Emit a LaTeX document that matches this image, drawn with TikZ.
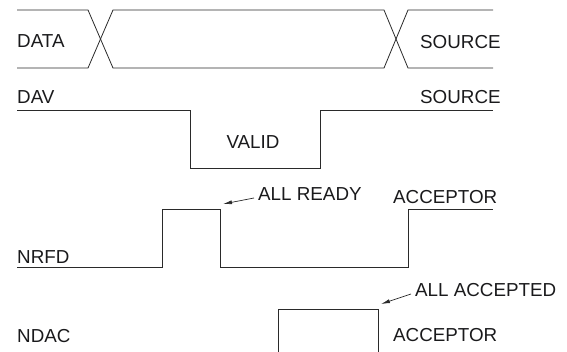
\documentclass[tikz,border=0pt]{standalone}
\usepackage{fontspec}
\setmainfont{Liberation Sans}
\usetikzlibrary{arrows.meta}
\definecolor{ink}  {HTML}{1A1A1C}
\definecolor{trace}{HTML}{2A2A2A}

\begin{document}
\begin{tikzpicture}[x=1pt, y=-1pt,
    wave/.style={trace, line width=0.8pt, line join=miter},
    sig/.style={font=\fontsize{18.8}{20}\selectfont, text=ink, inner sep=0pt, anchor=west},
    leader/.style={trace, line width=0.7pt, -{Latex[length=9pt, width=4pt]}}]
  \useasboundingbox (0,0) rectangle (567,351);
  % DATA bus
  \draw[wave] (17,10) -- (88,10) -- (113,68) -- (384,68) -- (408,10) -- (493,10);
  \draw[wave] (17,68) -- (88,68) -- (113,10) -- (384,10) -- (408,68) -- (493,68);
  \node[sig] (datalbl) at (17,41) {DATA};
  \node[sig] (datasrc) at (420,42) {SOURCE};
  % DAV
  \draw[wave] (17,110) -- (190,110) -- (190,168) -- (320,168) -- (320,110) -- (493,110);
  \node[sig] (davlbl) at (17,97) {DAV};
  \node[sig] (davsrc) at (420,97) {SOURCE};
  \node[sig, anchor=center] (valid) at (253,142) {VALID};
  % NRFD
  \draw[wave] (17,267) -- (162,267) -- (162,209) -- (220,209) -- (220,267) -- (408,267) -- (408,209) -- (493,209);
  \node[sig] (nrfdlbl) at (17,257) {NRFD};
  \node[sig] (ready) at (258,194) {ALL READY};
  \node[sig] (nrfdacc) at (393,197) {ACCEPTOR};
  \coordinate (readytip) at (223,204);
  \draw[leader] (ready.west) ++(-4,4) -- (readytip);
  % NDAC
  \draw[wave] (17,353) -- (278,353) -- (278,309) -- (378,309) -- (378,353) -- (493,353);
  \node[sig] (ndaclbl) at (17,336) {NDAC};
  \node[sig] (accepted) at (415,290) {ALL ACCEPTED};
  \node[sig] (ndacacc) at (393,335) {ACCEPTOR};
  \coordinate (acceptedtip) at (381,304);
  \draw[leader] (accepted.west) ++(-4,4) -- (acceptedtip);
\end{tikzpicture}
\end{document}
